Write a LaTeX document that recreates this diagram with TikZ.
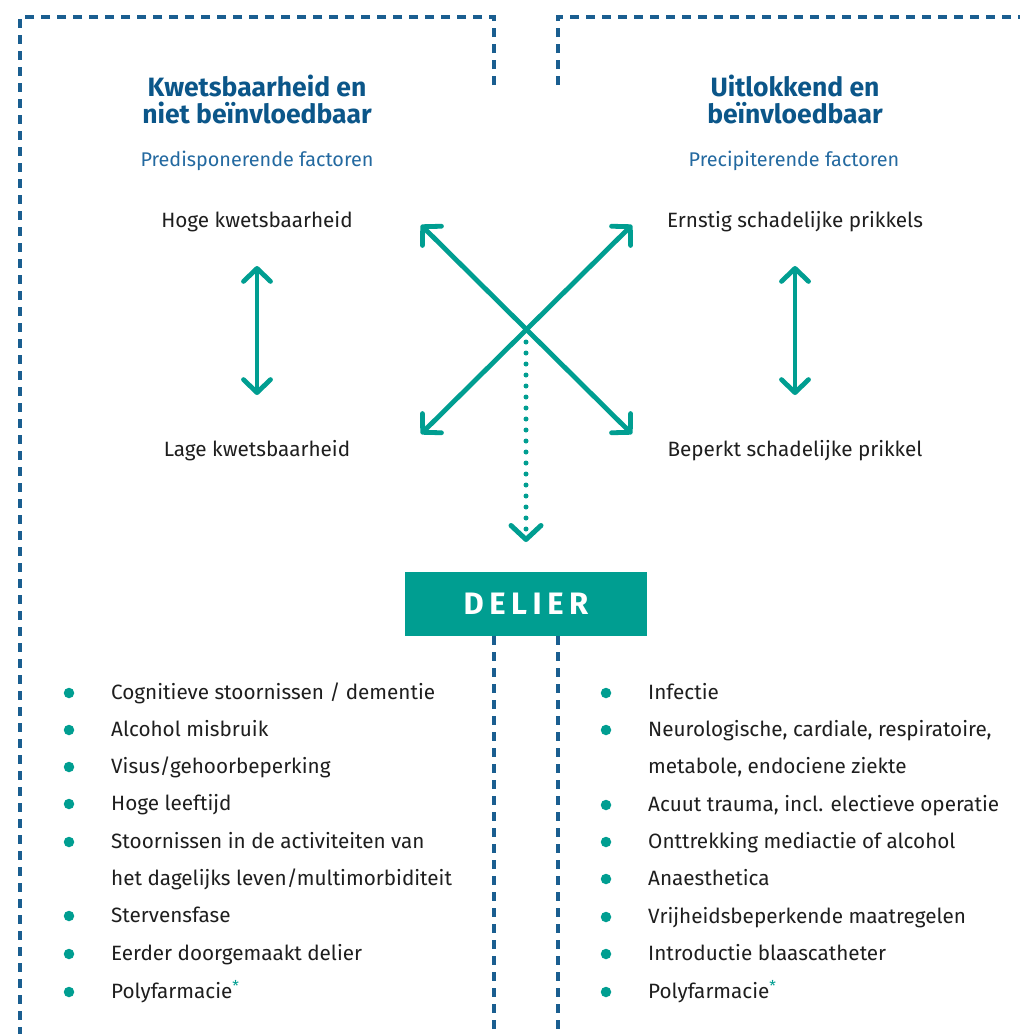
\documentclass[tikz,border=0pt]{standalone}
\usepackage{fontspec}
\setmainfont{Fira Sans}
\usetikzlibrary{arrows.meta}
\definecolor{tealc}{HTML}{009E91}
\definecolor{titleblue}{HTML}{0B5689}
\definecolor{subblue}{HTML}{2369A0}
\definecolor{dashblue}{HTML}{1A5E90}
\definecolor{txt}{HTML}{1E1E1E}
\newcommand{\tealstar}{\raisebox{0.32em}{\textcolor{tealc}{\fontsize{15}{15}\selectfont *}}}
\begin{document}
\begin{tikzpicture}[x=1pt,y=-1pt,
  frame/.style={dashblue, line width=3.1pt, dash pattern=on 9pt off 7pt},
  titletxt/.style={font=\fontsize{26.5}{30}\selectfont\bfseries, text=titleblue, anchor=base, inner sep=0},
  subtxt/.style={font=\fontsize{19.8}{23}\selectfont, text=subblue, anchor=base, inner sep=0},
  lbl/.style={font=\fontsize{20.7}{24}\selectfont, text=txt, anchor=base, inner sep=0},
  itemtxt/.style={font=\fontsize{20.7}{24}\selectfont, text=txt, anchor=base west, inner sep=0},
  bul/.style={circle, fill=tealc, inner sep=0, minimum size=10.5pt},
  barb/.tip={Straight Barb[length=13pt,width=27pt,line cap=round,line join=round]},
  twoway/.style={tealc, line width=4.8pt, line cap=round, barb-barb},
  dotarrow/.style={tealc, line width=5pt, line cap=round, dash pattern=on 0pt off 11pt, -{Straight Barb[length=14pt,width=30pt,line cap=round,line join=round]}},
  delierbox/.style={rectangle, fill=tealc, minimum width=242pt, minimum height=64pt, inner sep=0,
     font=\fontsize{31}{35}\selectfont\bfseries\addfontfeature{LetterSpace=18}, text=white}
]
\useasboundingbox (0,0) rectangle (1020,1034);
\fill[white] (0,0) rectangle (1020,1034);

% dashed frames
\draw[frame] (494,85) -- (494,17) -- (20,17) -- (20,1034);
\draw[frame] (558,85) -- (558,17) -- (1020,17);
\draw[frame] (494,636) -- (494,1034);
\draw[frame] (558,636) -- (558,1034);

% titles
\node[titletxt] (t1a) at (257,96) {Kwetsbaarheid en};
\node[titletxt] (t1b) at (257,123) {niet beïnvloedbaar};
\node[subtxt] (s1) at (257,166) {Predisponerende factoren};
\node[titletxt] (t2a) at (795,96) {Uitlokkend en};
\node[titletxt] (t2b) at (795,123) {beïnvloedbaar};
\node[subtxt] (s2) at (794,166) {Precipiterende factoren};

% labels
\node[lbl] (hoge) at (257,227) {Hoge kwetsbaarheid};
\node[lbl] (lage) at (257,456) {Lage kwetsbaarheid};
\node[lbl] (ernstig) at (795,227) {Ernstig schadelijke prikkels};
\node[lbl] (beperkt) at (795,456) {Beperkt schadelijke prikkel};

% vertical arrows
\coordinate (la1) at (257,266);
\coordinate (la2) at (257,395);
\coordinate (ra1) at (795,266);
\coordinate (ra2) at (795,395);
\draw[twoway] (la1) -- (la2);
\draw[twoway] (ra1) -- (ra2);

% cross arrows
\coordinate (tl) at (421,225);
\coordinate (tr) at (632,225);
\coordinate (bl) at (421,434);
\coordinate (br) at (632,434);
\draw[twoway] (tl) -- (br);
\draw[twoway] (tr) -- (bl);

% DELIER
\node[delierbox] (delier) at (526,604) {DELIER};
\coordinate (dotstart) at (526,342);
\coordinate (dotend) at (526,542);
\draw[dotarrow] (dotstart) -- (dotend);

% left list
\foreach \y/\t/\b [count=\i] in {
  692/{Cognitieve stoornissen / dementie}/1,
  729/{Alcohol misbruik}/1,
  766/{Visus/gehoorbeperking}/1,
  803/{Hoge leeftijd}/1,
  841/{Stoornissen in de activiteiten van}/1,
  878/{het dagelijks leven/multimorbiditeit}/0,
  915/{Stervensfase}/1,
  953/{Eerder doorgemaakt delier}/1,
  991/{Polyfarmacie\tealstar}/1}{
  \node[itemtxt] (L\i) at (111,\y+7) {\t};
  \ifnum\b=1 \node[bul] (LB\i) at (69,\y+1) {}; \fi
}
% right list
\foreach \y/\t/\b [count=\i] in {
  692/{Infectie}/1,
  729/{Neurologische, cardiale, respiratoire,}/1,
  766/{metabole, endociene ziekte}/0,
  804/{Acuut trauma, incl. electieve operatie}/1,
  841/{Onttrekking mediactie of alcohol}/1,
  878/{Anaesthetica}/1,
  916/{Vrijheidsbeperkende maatregelen}/1,
  953/{Introductie blaascatheter}/1,
  991/{Polyfarmacie\tealstar}/1}{
  \node[itemtxt] (R\i) at (648,\y+7) {\t};
  \ifnum\b=1 \node[bul] (RB\i) at (606,\y+1) {}; \fi
}
\end{tikzpicture}
\end{document}
